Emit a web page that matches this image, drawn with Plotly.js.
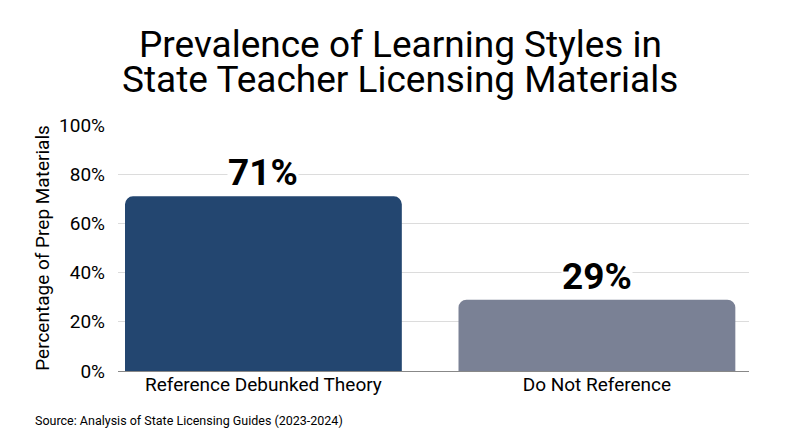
<!DOCTYPE html>
<html>
<head>
<meta charset="utf-8">
<script src="https://cdn.plot.ly/plotly-3.0.1.min.js"></script>
<style>
  html, body { margin: 0; padding: 0; background: #fff; }
  #plot { width: 800px; height: 447px; }
</style>
</head>
<body>
<div id="plot"></div>
<script>
const categories = ["Reference Debunked Theory", "Do Not Reference"];
const percents = [71, 29];
const barColors = ["#234670", "#7a8195"];
const tickValues = [0, 20, 40, 60, 80, 100];
const tickLabels = ["0%", "20%", "40%", "60%", "80%", "100%"];
const titleLines = ["Prevalence of Learning Styles in", "State Teacher Licensing Materials"];
const sourceNote = "Source: Analysis of State Licensing Guides (2023-2024)";

var data = [{
  x: categories,
  y: percents,
  type: "bar",
  width: 0.83,
  marker: {color: barColors, cornerradius: 8},
  hoverinfo: "none"
}];

// value labels sit on the bars, white box cuts the gridline like the original
var notes = categories.map((c, i) => ({
  x: c,
  y: percents[i],
  xref: "x",
  yref: "y",
  text: "<b>" + percents[i] + "%</b>",
  showarrow: false,
  yanchor: "bottom",
  yshift: 1,
  bgcolor: "#ffffff",
  borderpad: 0,
  font: {family: "Roboto", size: 37, color: "#000"}
}));

// title drawn as two lines so the line spacing is tight
var titleY = [1.329, 1.183];
titleLines.forEach((t, i) => notes.push({
  xref: "paper",
  yref: "paper",
  x: (400 - 118) / 631,
  y: titleY[i],
  xanchor: "center",
  yanchor: "middle",
  showarrow: false,
  text: t,
  font: {family: "Roboto", size: 37, color: "#000"}
}));

notes.push({
  xref: "paper",
  yref: "paper",
  x: (33 - 118) / 631,
  y: -0.203,
  xanchor: "left",
  yanchor: "middle",
  showarrow: false,
  text: sourceNote,
  font: {family: "Roboto", size: 12.5, color: "#000"}
});

var layout = {
  width: 800,
  height: 447,
  margin: {t: 125, r: 51, b: 76, l: 118},
  paper_bgcolor: "#fff",
  plot_bgcolor: "#fff",
  font: {family: "Roboto", color: "#000"},
  xaxis: {
    range: [-0.436, 1.456],
    tickfont: {size: 19, color: "#000"},
    showgrid: false,
    showline: false,
    ticks: ""
  },
  yaxis: {
    range: [0, 100],
    tickvals: tickValues,
    ticktext: tickLabels,
    tickfont: {size: 19, color: "#000"},
    gridcolor: "#dcdcdc",
    zeroline: true,
    zerolinecolor: "#888",
    zerolinewidth: 1,
    ticks: "",
    ticklabelstandoff: 12,
    title: {text: "Percentage of Prep Materials", font: {size: 19, color: "#000"}, standoff: 4}
  },
  annotations: notes,
  showlegend: false
};

Plotly.newPlot("plot", data, layout, {displayModeBar: false, staticPlot: true});
</script>
</body>
</html>
